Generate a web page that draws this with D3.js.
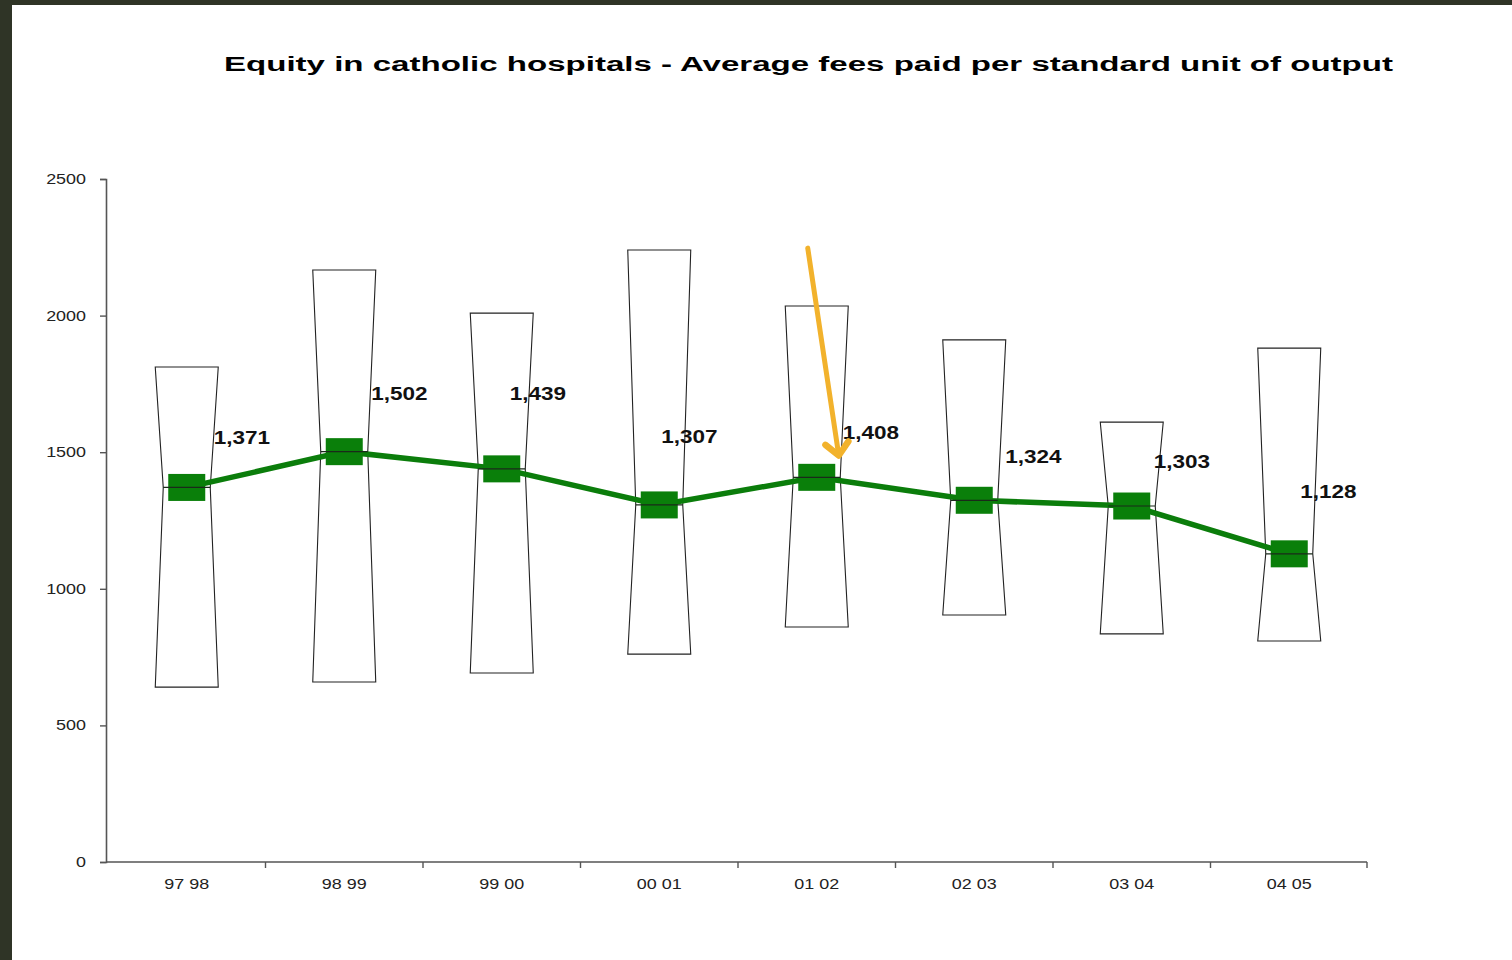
<!DOCTYPE html>
<html>
<head>
<meta charset="utf-8">
<script src="https://cdn.jsdelivr.net/npm/d3@7"></script>
<style>
  html, body { margin: 0; padding: 0; background: #ffffff; }
  svg { display: block; }
  text { font-family: "Liberation Sans", Arial, sans-serif; }
</style>
</head>
<body>
<svg id="chart" width="1512" height="960"></svg>
<script>
// Financial years shown on the x axis
const categories = ["97 98", "98 99", "99 00", "00 01", "01 02", "02 03", "03 04", "04 05"];
// Average fee per standard unit of output (median of each year)
const averageFee = [1371, 1502, 1439, 1307, 1408, 1324, 1303, 1128];
// Spread of fees across hospitals for each year
const feeHigh = [1812, 2167, 2009, 2240, 2035, 1911, 1610, 1881];
const feeLow  = [640, 659, 692, 761, 860, 904, 835, 809];
// Y axis ticks
const yTicks = [0, 500, 1000, 1500, 2000, 2500];
// Hand-placed value label nudges (px from each marker)
const labelNudge = [[27, -50], [27, -58], [8, -75], [2, -68], [26, -45], [31, -44], [22, -44], [11, -62]];
// Highlighted year for the call-out arrow, with its start and end values
const arrowYear = "01 02";
const arrowFrom = 2247, arrowTo = 1488;

const title = "Equity in catholic hospitals - Average fees paid per standard unit of output";

const svg = d3.select("#chart");
const W = 1512, H = 960;
const stretch = 1.28;   // wide type used throughout the chart

// frame
svg.append("rect").attr("width", W).attr("height", H).attr("fill", "#2f3426");
svg.append("rect").attr("x", 12).attr("y", 5).attr("width", W - 12).attr("height", H - 5).attr("fill", "#ffffff");

const x = d3.scaleBand().domain(categories).range([108, 1368]);
const y = d3.scaleLinear().domain([0, 2500]).range([862, 179]);
const cx = c => x(c) + x.bandwidth() / 2;

function widen(sel, factor) {
  sel.each(function () {
    const len = this.getComputedTextLength();
    d3.select(this).attr("textLength", len * factor).attr("lengthAdjust", "spacingAndGlyphs");
  });
}

// title
svg.append("text")
  .attr("x", 224).attr("y", 71)
  .attr("font-size", 20).attr("font-weight", "bold").attr("fill", "#000")
  .attr("textLength", 1169).attr("lengthAdjust", "spacingAndGlyphs")
  .text(title);

// axes
const yAxis = svg.append("g").attr("transform", "translate(106,0)")
  .call(d3.axisLeft(y).tickValues(yTicks).tickSize(6).tickPadding(14).tickFormat(d3.format("d")));
const xAxis = svg.append("g").attr("transform", "translate(0,862)")
  .call(d3.axisBottom(x).tickSize(0).tickPadding(17));
xAxis.select(".domain").attr("d", "M106,0H1367");

[yAxis, xAxis].forEach(a => {
  a.select(".domain").attr("stroke", "#555").attr("stroke-width", 1.6);
  a.selectAll(".tick line").attr("stroke", "#555").attr("stroke-width", 1.4);
  a.selectAll("text").attr("font-size", 14).attr("fill", "#222")
    .attr("font-family", "'Liberation Sans', Arial, sans-serif");
});
widen(yAxis.selectAll("text"), stretch);
widen(xAxis.selectAll("text"), stretch);

// x axis ticks sit on band boundaries
const bounds = categories.map(c => x(c)).slice(1).concat([1367]);
xAxis.selectAll(".edge").data(bounds).join("line")
  .attr("class", "edge")
  .attr("x1", d => d).attr("x2", d => d)
  .attr("y1", 0).attr("y2", 6)
  .attr("stroke", "#555").attr("stroke-width", 1.4);

// notched (hourglass) boxes
const boxW = x.bandwidth() * 0.4;
const notch = 8;
const rows = categories.map((c, i) => ({ c, i, med: averageFee[i], hi: feeHigh[i], lo: feeLow[i] }));

svg.append("g").selectAll("path").data(rows).join("path")
  .attr("d", d => {
    const l = cx(d.c) - boxW / 2, r = cx(d.c) + boxW / 2;
    const t = y(d.hi), b = y(d.lo), m = y(d.med);
    return `M${l},${t}L${r},${t}L${r - notch},${m}L${r},${b}L${l},${b}L${l + notch},${m}Z`;
  })
  .attr("fill", "#fff").attr("stroke", "#222").attr("stroke-width", 1.1);

// average fee line
const line = d3.line().x(d => cx(d.c)).y(d => y(d.med));
svg.append("path").datum(rows)
  .attr("d", line)
  .attr("fill", "none").attr("stroke", "#0b7d0b").attr("stroke-width", 5.5);

svg.append("g").selectAll("rect").data(rows).join("rect")
  .attr("x", d => cx(d.c) - 18.5).attr("y", d => y(d.med) - 13.5)
  .attr("width", 37).attr("height", 27)
  .attr("fill", "#0a7f0a");

// median ticks across each notch, drawn over the markers
svg.append("g").selectAll("line").data(rows).join("line")
  .attr("x1", d => cx(d.c) - boxW / 2 + notch).attr("x2", d => cx(d.c) + boxW / 2 - notch)
  .attr("y1", d => y(d.med)).attr("y2", d => y(d.med))
  .attr("stroke", "#1a2a1a").attr("stroke-width", 1.2);

// value labels
const labels = svg.append("g").selectAll("text").data(rows).join("text")
  .attr("x", d => cx(d.c) + labelNudge[d.i][0])
  .attr("y", d => y(d.med) + labelNudge[d.i][1])
  .attr("dy", "0.35em")
  .attr("font-size", 18).attr("font-weight", "bold").attr("fill", "#111")
  .text(d => d3.format(",")(d.med));
widen(labels, 1.25);

// call-out arrow
const ax0 = cx(arrowYear) - 9, ay0 = y(arrowFrom);
const ax1 = cx(arrowYear) + 22, ay1 = y(arrowTo);
const ang = Math.atan2(ay1 - ay0, ax1 - ax0);
const head = 17, spread = 0.75;
const arrow = svg.append("g").attr("stroke", "#f2b22c")
  .attr("stroke-linecap", "round").attr("fill", "none");
arrow.append("line").attr("x1", ax0).attr("y1", ay0).attr("x2", ax1).attr("y2", ay1)
  .attr("stroke-width", 5);
arrow.append("path").attr("d",
  `M${ax1 - head * Math.cos(ang - spread)},${ay1 - head * Math.sin(ang - spread)}` +
  `L${ax1},${ay1}` +
  `L${ax1 - head * Math.cos(ang + spread)},${ay1 - head * Math.sin(ang + spread)}`)
  .attr("stroke-width", 6.5)
  .attr("stroke-linejoin", "round");
</script>
</body>
</html>
